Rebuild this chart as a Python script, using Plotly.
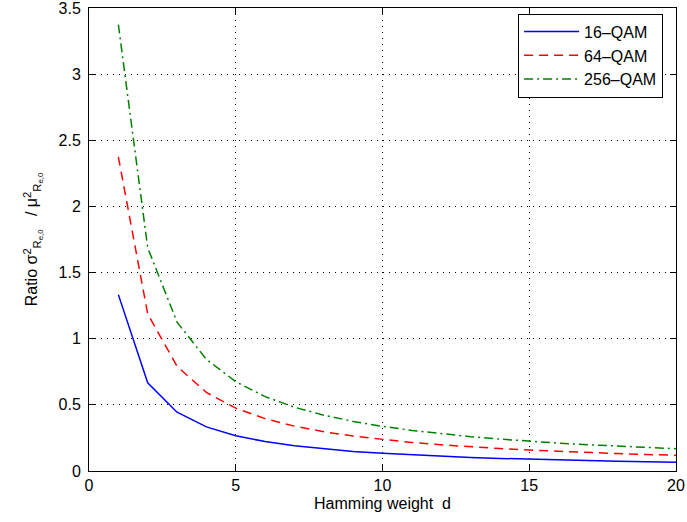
import plotly.graph_objects as go

d = list(range(1, 21))
qam16 = [1.3333, 0.6667, 0.4444, 0.3333, 0.2667, 0.2222, 0.1905, 0.1667, 0.1481, 0.1333,
         0.1212, 0.1111, 0.1026, 0.0952, 0.0889, 0.0833, 0.0784, 0.0741, 0.0702, 0.0667]
qam64 = [2.375, 1.1875, 0.7917, 0.5938, 0.475, 0.3958, 0.3393, 0.2969, 0.2639, 0.2375,
         0.2159, 0.1979, 0.1827, 0.1696, 0.1583, 0.1484, 0.1397, 0.1319, 0.125, 0.1188]
qam256 = [3.375, 1.6875, 1.125, 0.8438, 0.675, 0.5625, 0.4821, 0.4219, 0.375, 0.3375,
          0.3068, 0.2813, 0.2596, 0.2411, 0.225, 0.2109, 0.1985, 0.1875, 0.1776, 0.1688]
names = ["16\u2013QAM", "64\u2013QAM", "256\u2013QAM"]

fig = go.Figure()
fig.add_trace(go.Scatter(x=d, y=qam16, mode="lines", name=names[0],
                         line=dict(color="#0000ff", width=1.5, dash="solid")))
fig.add_trace(go.Scatter(x=d, y=qam64, mode="lines", name=names[1],
                         line=dict(color="#ff0000", width=1.5, dash="9px,6px")))
fig.add_trace(go.Scatter(x=d, y=qam256, mode="lines", name=names[2],
                         line=dict(color="#008000", width=1.5, dash="9px,4px,2px,4px")))

font = dict(family="Liberation Sans, Arial, sans-serif", size=16, color="black")
axis_common = dict(showline=True, linecolor="black", linewidth=1, mirror="ticks",
                   ticks="inside", ticklen=6, tickcolor="black",
                   showgrid=True, gridcolor="black", griddash="1px,5px", gridwidth=1,
                   zeroline=False, tickfont=font, automargin=False,
                   ticklabeloverflow="allow")

fig.update_layout(
    width=687, height=522,
    margin=dict(l=89, r=11, t=8, b=51),
    plot_bgcolor="white", paper_bgcolor="white",
    font=font,
    xaxis=dict(range=[0, 20], tickvals=[0, 5, 10, 15, 20],
               title=dict(text="Hamming weight  d", font=font, standoff=4), **axis_common),
    yaxis=dict(range=[0, 3.5], tickvals=[0, 0.5, 1, 1.5, 2, 2.5, 3, 3.5],
               ticktext=["0", "0.5", "1", "1.5", "2", "2.5", "3", "3.5"],
               ticklabelstandoff=4,
               title=dict(text="Ratio \u03c3<sup>2</sup><sub>R<sub>e,0</sub></sub>   / \u03bc<sup>2</sup><sub>R<sub>e,0</sub></sub>",
                          font=font, standoff=16), **axis_common),
    legend=dict(x=0.978, y=0.988, xanchor="right", yanchor="top",
                bordercolor="black", borderwidth=1, bgcolor="white",
                font=font, tracegroupgap=0, itemwidth=55),
    showlegend=True,
)

fig.write_html("out.html", post_script="document.body.style.margin='0';",
               config={"displayModeBar": False})
